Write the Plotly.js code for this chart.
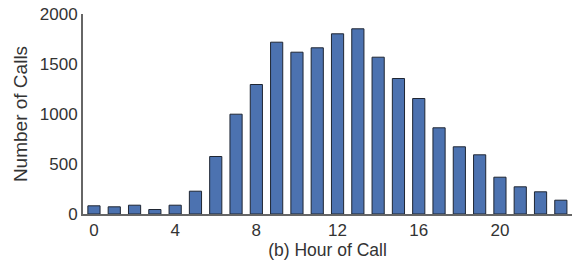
<!DOCTYPE html>
<html>
<head>
<meta charset="utf-8">
<script src="https://cdn.plot.ly/plotly-3.0.1.min.js"></script>
<style>html,body{margin:0;padding:0;background:#fff;}#chart{width:572px;height:262px;}</style>
</head>
<body>
<div id="chart"></div>
<script>
const hours = [0,1,2,3,4,5,6,7,8,9,10,11,12,13,14,15,16,17,18,19,20,21,22,23];
const calls = [82,72,88,45,88,228,575,998,1295,1718,1618,1662,1802,1852,1568,1355,1155,862,672,592,368,272,222,138];
const xTicks = [0,4,8,12,16,20];
const yTicks = [0,500,1000,1500,2000];

const trace = {
  type: 'bar',
  x: hours,
  y: calls,
  width: 0.6,
  marker: {color: '#4c72b0', line: {color: '#1f2633', width: 1}},
  hoverinfo: 'skip'
};

const layout = {
  width: 572, height: 262,
  margin: {l: 83, r: 0, t: 14, b: 47.5},
  paper_bgcolor: '#fff', plot_bgcolor: '#fff',
  showlegend: false,
  font: {family: 'Liberation Sans, Arial, sans-serif', color: '#333'},
  xaxis: {
    range: [-0.54, 23.55],
    tickmode: 'array', tickvals: xTicks, ticktext: xTicks.map(String),
    showgrid: false, zeroline: false,
    showline: true, linecolor: '#666', linewidth: 2,
    ticks: '', tickfont: {size: 17, color: '#333'},
    title: {text: '(b) Hour of Call', font: {size: 17.5, color: '#333'}, standoff: 3}
  },
  yaxis: {
    range: [0, 2000],
    tickmode: 'array', tickvals: yTicks, ticktext: yTicks.map(String),
    showgrid: false, zeroline: false,
    showline: true, linecolor: '#666', linewidth: 2,
    ticks: '', ticklen: 0, tickfont: {size: 17, color: '#333'},
    title: {text: 'Number of Calls', font: {size: 19, color: '#333'}, standoff: 7}
  }
};

Plotly.newPlot('chart', [trace], layout, {staticPlot: true, displayModeBar: false});
</script>
</body>
</html>
